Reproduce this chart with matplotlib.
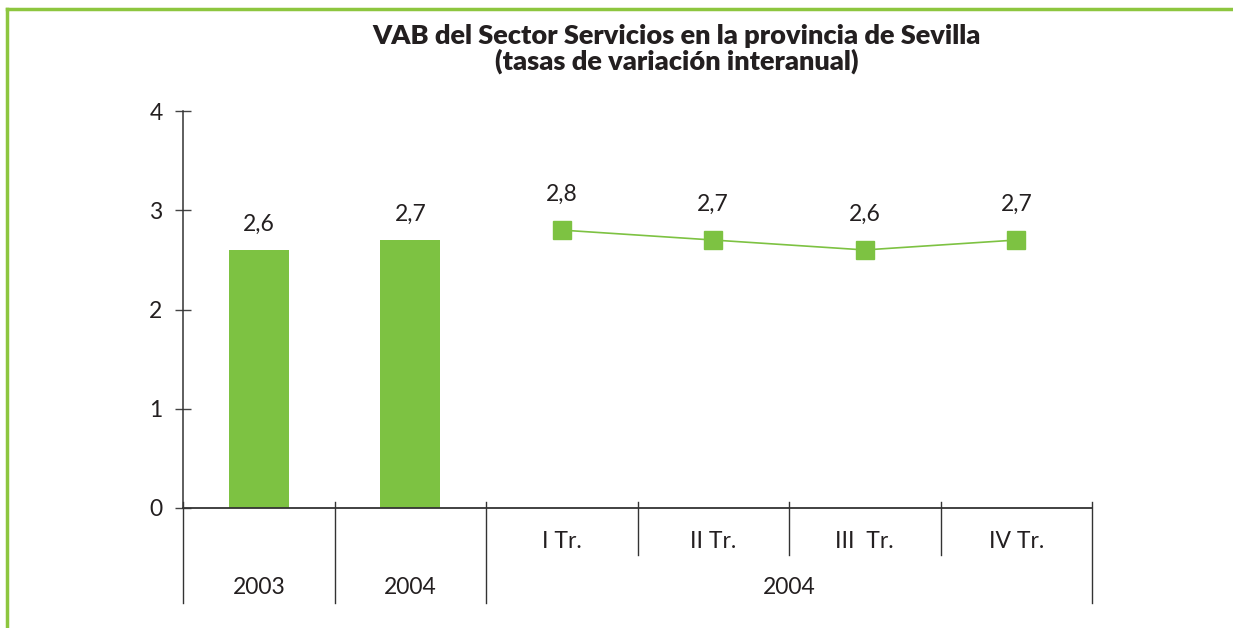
import matplotlib
matplotlib.use("Agg")
import matplotlib.pyplot as plt
from matplotlib.lines import Line2D
import matplotlib.transforms as mtransforms

plt.rcParams['font.family'] = ['Lato', 'DejaVu Sans']

# Data
annual_labels = ["2003", "2004"]
annual_values = [2.6, 2.7]
quarter_labels = ["I Tr.", "II Tr.", "III  Tr.", "IV Tr."]
quarter_values = [2.8, 2.7, 2.6, 2.7]
quarter_year = "2004"
title = "VAB del Sector Servicios en la provincia de Sevilla\n(tasas de variación interanual)"

W, H = 1233, 628
fig = plt.figure(figsize=(W / 100, H / 100), dpi=100)
green = "#7DC242"
border_green = "#8DC63F"
dark = "#231F20"

# Frame border (left and top)
fig.add_artist(Line2D([6.5 / W, 6.5 / W], [0, 1 - 8.5 / H], transform=fig.transFigure,
                      color=border_green, lw=2.5, solid_capstyle="projecting"))
fig.add_artist(Line2D([6.5 / W, 1], [1 - 8.5 / H, 1 - 8.5 / H], transform=fig.transFigure,
                      color=border_green, lw=2.5, solid_capstyle="projecting"))

left, right = 183 / W, 1092 / W
bottom, top = (H - 508) / H, (H - 111) / H
ax = fig.add_axes([left, bottom, right - left, top - bottom])

n_ann = len(annual_values)
n_q = len(quarter_values)
x_ann = list(range(n_ann))
x_q = list(range(n_ann, n_ann + n_q))

ax.bar(x_ann, annual_values, width=0.396, color=green, zorder=2)
ax.plot(x_q, quarter_values, color=green, lw=1.2, marker="s", markersize=13,
        markerfacecolor=green, markeredgecolor=green, zorder=3)

fs = 16.5
for x, v in zip(x_ann, annual_values):
    ax.annotate(f"{v:.1f}".replace(".", ","), (x, v), xytext=(0, 11),
                textcoords="offset points", ha="center", va="bottom",
                fontsize=fs, color=dark)
for x, v in zip(x_q, quarter_values):
    ax.annotate(f"{v:.1f}".replace(".", ","), (x, v), xytext=(0, 18),
                textcoords="offset points", ha="center", va="bottom",
                fontsize=fs, color=dark)

ax.set_xlim(-0.5, n_ann + n_q - 0.5)
ax.set_ylim(0, 4)
ax.set_yticks([0, 1, 2, 3, 4])
ax.set_yticklabels(["0", "1", "2", "3", "4"], fontsize=fs, color=dark)
ax.tick_params(axis="y", direction="inout", length=11.5, width=1, color="#444444", pad=9)
ax.set_xticks([])
for s in ["top", "right"]:
    ax.spines[s].set_visible(False)
ax.spines["left"].set_color("#333333")
ax.spines["bottom"].set_color("#333333")
ax.spines["left"].set_linewidth(1.1)
ax.spines["bottom"].set_linewidth(1.3)

trans = mtransforms.blended_transform_factory(ax.transData, ax.transAxes)
up = 6 / 397
long_down = -95 / 397
short_down = -47 / 397
# separators
long_seps = [-0.5, 0.5, 1.5, n_ann + n_q - 0.5]
short_seps = [n_ann - 0.5 + i for i in range(1, n_q)]
for xs in long_seps:
    ax.add_line(Line2D([xs, xs], [up, long_down], transform=trans, color="#333333",
                       lw=1, clip_on=False))
for xs in short_seps:
    ax.add_line(Line2D([xs, xs], [up, short_down], transform=trans, color="#333333",
                       lw=1, clip_on=False))

for x, lab in zip(x_ann, annual_labels):
    ax.text(x, -79 / 397, lab, transform=trans, ha="center", va="center",
            fontsize=fs, color=dark)
for x, lab in zip(x_q, quarter_labels):
    ax.text(x, -33 / 397, lab, transform=trans, ha="center", va="center",
            fontsize=fs, color=dark)
ax.text((x_q[0] + x_q[-1]) / 2, -79 / 397, quarter_year, transform=trans,
        ha="center", va="center", fontsize=fs, color=dark)

fig.text(677 / W, 1 - 49 / H, title, ha="center", va="center", fontsize=19.5,
         fontweight="heavy", color=dark, linespacing=1.0)

fig.savefig("out.png", dpi=100)
